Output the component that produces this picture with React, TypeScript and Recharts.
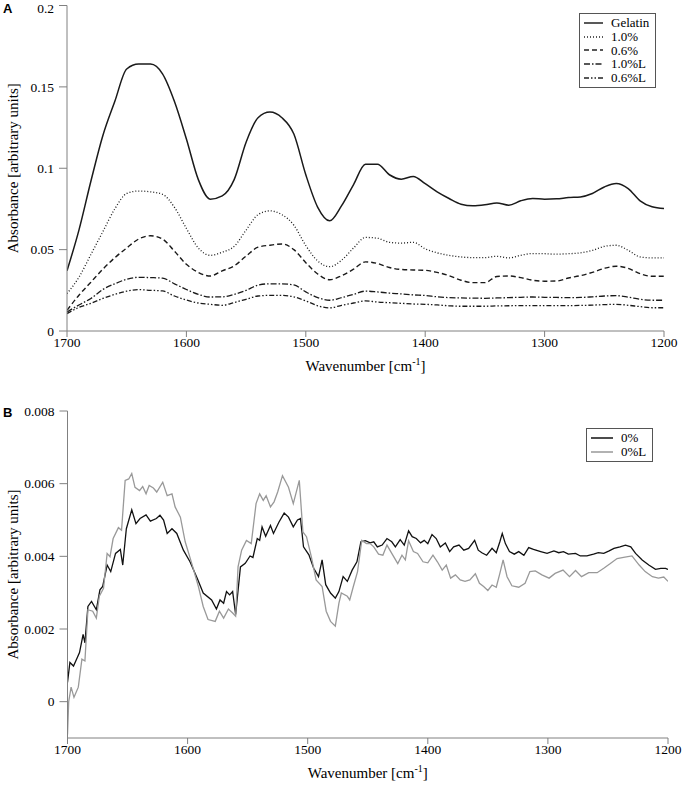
import React from 'react';
import { LineChart, Line, XAxis, YAxis } from 'recharts';

// Panel A: wavenumber grid (cm-1) and absorbance of each film
const wnA = [
  1700, 1690, 1680, 1670, 1660, 1650, 1640, 1630, 1620, 1610,
  1600, 1590, 1580, 1570, 1560, 1550, 1540, 1530, 1520, 1510,
  1500, 1490, 1480, 1470, 1460, 1450, 1440, 1430, 1420, 1410,
  1400, 1390, 1380, 1370, 1360, 1350, 1340, 1330, 1320, 1310,
  1300, 1290, 1280, 1270, 1260, 1250, 1240, 1230, 1220, 1210,
  1200,
];
const gelatin = [
  0.037, 0.062, 0.092, 0.12, 0.141, 0.161, 0.164, 0.164, 0.158, 0.141,
  0.118, 0.093, 0.081, 0.083, 0.093, 0.116, 0.131, 0.1345, 0.131, 0.121,
  0.096, 0.076, 0.0677, 0.077, 0.09, 0.1025, 0.1025, 0.096, 0.0933, 0.095,
  0.0905, 0.0855, 0.0814, 0.0779, 0.0769, 0.0775, 0.0787, 0.0773, 0.08, 0.0814,
  0.081, 0.0812, 0.082, 0.0824, 0.0845, 0.0885, 0.0906, 0.0875, 0.08, 0.0763,
  0.0752,
];
const conc10 = [
  0.023, 0.033, 0.047, 0.061, 0.075, 0.0845, 0.086, 0.0855, 0.084, 0.076,
  0.063, 0.051, 0.0465, 0.0484, 0.052, 0.062, 0.0715, 0.0738, 0.0715, 0.065,
  0.0525, 0.043, 0.0395, 0.0435, 0.051, 0.0575, 0.057, 0.0545, 0.054, 0.0545,
  0.0505, 0.048, 0.0465, 0.0455, 0.0451, 0.0451, 0.0459, 0.0449, 0.0465, 0.0476,
  0.0475, 0.0472, 0.0475, 0.048, 0.0495, 0.052, 0.0527, 0.0496, 0.0455, 0.0449,
  0.0449,
];
const conc06 = [
  0.0127, 0.022, 0.03, 0.038, 0.045, 0.051, 0.0565, 0.0585, 0.0565, 0.049,
  0.041, 0.036, 0.0338, 0.037, 0.04, 0.046, 0.0515, 0.0527, 0.0535, 0.05,
  0.042, 0.035, 0.0315, 0.034, 0.038, 0.0425, 0.0415, 0.039, 0.0378, 0.0375,
  0.0373, 0.036, 0.034, 0.0312, 0.0297, 0.0297, 0.0335, 0.0338, 0.0328, 0.0312,
  0.0306, 0.0307, 0.0326, 0.034, 0.036, 0.0385, 0.0398, 0.0385, 0.0352, 0.0336,
  0.0336,
];
const conc10L = [
  0.0117, 0.016, 0.02, 0.0255, 0.029, 0.0318, 0.033, 0.0328, 0.0325, 0.029,
  0.0255, 0.0225, 0.0209, 0.021, 0.0225, 0.025, 0.0282, 0.029, 0.029, 0.0283,
  0.024, 0.0205, 0.0189, 0.0205, 0.0225, 0.0245, 0.024, 0.0233, 0.0228, 0.0222,
  0.0218, 0.021, 0.0205, 0.0203, 0.0202, 0.0201, 0.0203, 0.0205, 0.0207, 0.0209,
  0.0207, 0.0206, 0.0205, 0.0206, 0.021, 0.0215, 0.0217, 0.0208, 0.0195, 0.0189,
  0.0189,
];
const conc06L = [
  0.0107, 0.0145, 0.017, 0.02, 0.0225, 0.0245, 0.0254, 0.025, 0.0246, 0.0215,
  0.019, 0.0172, 0.0164, 0.0158, 0.0175, 0.0195, 0.0215, 0.0219, 0.0219, 0.021,
  0.0185, 0.0155, 0.0142, 0.0158, 0.0172, 0.0185, 0.0178, 0.0174, 0.017, 0.0166,
  0.0164, 0.016, 0.0155, 0.0152, 0.0152, 0.0152, 0.0154, 0.0155, 0.0156, 0.0156,
  0.0156, 0.0156, 0.0156, 0.0157, 0.0159, 0.0162, 0.0164, 0.0158, 0.015, 0.0143,
  0.0143,
];

// Panel B: [wavenumber, absorbance]
const film0: [number, number][] = [
  [1700, 0.00053], [1698, 0.00108], [1695, 0.00098], [1692, 0.0012], [1690, 0.00135],
  [1687, 0.00185], [1685.5, 0.00162], [1683, 0.00262], [1680, 0.00276], [1676, 0.00253],
  [1673, 0.00308], [1670.7, 0.00317], [1667, 0.00376], [1664, 0.00358], [1660, 0.00408],
  [1656, 0.00419], [1654, 0.00376], [1651, 0.00476], [1646.5, 0.00528], [1643, 0.0049],
  [1639.6, 0.00504], [1634.6, 0.00514], [1631, 0.00497], [1626, 0.00504], [1623, 0.00513],
  [1620, 0.005], [1617, 0.00463], [1613, 0.00476], [1609, 0.00463], [1603.5, 0.00417],
  [1598, 0.00385], [1592, 0.0034], [1587, 0.00299], [1580, 0.0028], [1576, 0.00255],
  [1573, 0.0028], [1570, 0.00271], [1567.6, 0.00303], [1565, 0.00294], [1562.5, 0.00303],
  [1560, 0.0024], [1556, 0.00371], [1552, 0.00381], [1548, 0.00401], [1545.6, 0.00397],
  [1542, 0.00449], [1540, 0.00444], [1538, 0.00481], [1535, 0.00455], [1531, 0.00485],
  [1528.5, 0.00463], [1524, 0.00494], [1519.6, 0.00519], [1516, 0.00508], [1512, 0.00481],
  [1508.5, 0.005], [1506, 0.00504], [1503.5, 0.00426], [1499, 0.00404], [1495, 0.00367],
  [1491, 0.00344], [1488, 0.0039], [1485, 0.00322], [1481, 0.00299], [1477, 0.00285],
  [1474, 0.00303], [1470.5, 0.00344], [1467, 0.00331], [1463, 0.00362], [1459, 0.00385],
  [1455.7, 0.0044], [1452, 0.00443], [1448, 0.00437], [1445, 0.0044], [1442, 0.00426],
  [1438, 0.00431], [1434, 0.00449], [1430, 0.0044], [1427, 0.00426], [1423, 0.00446],
  [1419.6, 0.00431], [1416, 0.0047], [1413, 0.00454], [1409.6, 0.00449], [1406, 0.00437],
  [1403, 0.00444], [1400, 0.00435], [1396.5, 0.0046], [1393, 0.00449], [1389.6, 0.00426],
  [1385.4, 0.00437], [1381.8, 0.00413], [1378.5, 0.00426], [1374, 0.00431], [1370, 0.00417],
  [1366, 0.00422], [1361, 0.00444], [1358, 0.00417], [1355, 0.0041], [1351, 0.00403],
  [1346.5, 0.00422], [1343, 0.0041], [1340, 0.0044], [1338, 0.00463], [1335.4, 0.00435],
  [1332, 0.00413], [1328, 0.00406], [1324.3, 0.00413], [1320, 0.00403], [1316, 0.00424],
  [1312, 0.00419], [1306, 0.00413], [1300.7, 0.00408], [1295, 0.00415], [1291, 0.0041],
  [1287, 0.00413], [1283, 0.00406], [1277, 0.00408], [1273, 0.00401], [1267.5, 0.00401],
  [1262, 0.00406], [1258, 0.0041], [1253.5, 0.00408], [1249, 0.00415], [1245, 0.00422],
  [1240, 0.00426], [1235.4, 0.00431], [1231, 0.00426], [1227, 0.00408], [1221.5, 0.0039],
  [1216, 0.00376], [1210.4, 0.00364], [1206, 0.00367], [1202, 0.00367], [1200, 0.00364],
];
const film0L: [number, number][] = [
  [1700, -0.0009], [1699, 0.0], [1697, 0.0004], [1694.6, 0.00012], [1691, 0.0004],
  [1688, 0.00117], [1685.5, 0.00112], [1683, 0.00253], [1679, 0.00249], [1676, 0.0023],
  [1673.5, 0.0029], [1670, 0.00312], [1667, 0.00408], [1664.6, 0.00399], [1662, 0.00449],
  [1657.6, 0.00479], [1655, 0.00472], [1652, 0.00609], [1649, 0.00613], [1646.5, 0.00628],
  [1643.8, 0.0059], [1640, 0.00581], [1637.4, 0.00592], [1634.6, 0.00572], [1632, 0.00595],
  [1628.5, 0.00588], [1625.7, 0.00577], [1620.7, 0.00604], [1617, 0.00567], [1613, 0.00572],
  [1610.4, 0.00536], [1606, 0.00508], [1602, 0.0044], [1596.5, 0.0038], [1591, 0.00317],
  [1587, 0.00262], [1583, 0.00226], [1577, 0.00221], [1573.5, 0.00249], [1570, 0.0023],
  [1566, 0.00255], [1562.5, 0.00244], [1560, 0.00235], [1558, 0.00371], [1555, 0.00417],
  [1551, 0.00444], [1547, 0.00435], [1543, 0.00545], [1540, 0.00572], [1537, 0.00554],
  [1534.6, 0.00567], [1531, 0.00536], [1528, 0.0055], [1525, 0.00577], [1521, 0.00622],
  [1516, 0.0059], [1512, 0.00545], [1507, 0.00609], [1504, 0.00467], [1501, 0.00454],
  [1497, 0.00399], [1493, 0.00335], [1488, 0.00317], [1484.6, 0.00249], [1481, 0.00221],
  [1477, 0.00208], [1474, 0.00271], [1472, 0.00299], [1467, 0.0029], [1465, 0.0028],
  [1462, 0.00317], [1458.5, 0.00358], [1455, 0.00444], [1451, 0.00435], [1448, 0.00435],
  [1445, 0.00426], [1441, 0.00406], [1437.4, 0.00403], [1434, 0.00431], [1430, 0.00408],
  [1425, 0.0038], [1421.5, 0.00403], [1418.7, 0.0039], [1416, 0.00443], [1412, 0.00413],
  [1408.5, 0.00408], [1404, 0.00385], [1400, 0.00382], [1395.7, 0.00403], [1392, 0.00385],
  [1388, 0.00362], [1384.6, 0.00376], [1381, 0.0034], [1377, 0.00349], [1373, 0.00335],
  [1369, 0.00331], [1365, 0.00335], [1360.4, 0.00352], [1357, 0.00326], [1353.5, 0.00317],
  [1350, 0.00306], [1346.5, 0.00321], [1343, 0.00315], [1340, 0.00353], [1337.3, 0.0039],
  [1334, 0.00344], [1330, 0.00319], [1324.3, 0.00315], [1319, 0.00326], [1315, 0.00358],
  [1310.5, 0.0036], [1305, 0.00349], [1299, 0.0034], [1294, 0.00353], [1287.4, 0.00362],
  [1282, 0.00344], [1277, 0.00361], [1272, 0.00344], [1266, 0.00355], [1259, 0.00355],
  [1253.5, 0.00367], [1248, 0.0038], [1242.4, 0.00394], [1237, 0.00397], [1230, 0.00401],
  [1224, 0.00376], [1219, 0.00358], [1213, 0.00344], [1208, 0.0034], [1203.5, 0.00343],
  [1200, 0.00331],
];

const xTicks = [1700, 1600, 1500, 1400, 1300, 1200];
const yTicksA = [0, 0.05, 0.1, 0.15, 0.2];
const yTicksB = [0, 0.002, 0.004, 0.006, 0.008];

const seriesA = [
  { key: 'gelatin', name: 'Gelatin', dash: undefined, width: 1.5 },
  { key: 'conc10', name: '1.0%', dash: '1 2', width: 1.3 },
  { key: 'conc06', name: '0.6%', dash: '5 3', width: 1.4 },
  { key: 'conc10L', name: '1.0%L', dash: '6 2 1.5 2', width: 1.3 },
  { key: 'conc06L', name: '0.6%L', dash: '5 2 1.5 2 1.5 2', width: 1.3 },
];
const seriesB = [
  { name: '0%', color: '#111', points: film0 },
  { name: '0%L', color: '#999', points: film0L },
];

const dataA = wnA.map((wn, i) => ({
  wn,
  gelatin: gelatin[i],
  conc10: conc10[i],
  conc06: conc06[i],
  conc10L: conc10L[i],
  conc06L: conc06L[i],
}));

const SERIF = '"Liberation Serif", "Times New Roman", serif';
const FRAME = '#808080';
const tickStyle = { fill: '#000', fontSize: 13.5, fontFamily: SERIF };

const XTitle = ({ viewBox }: any) => {
  const cx = viewBox.x + viewBox.width / 2;
  return (
    <text x={cx} y={viewBox.y + 40} textAnchor="middle" fontFamily={SERIF} fontSize={15} fill="#000">
      Wavenumber [cm
      <tspan dy={-6} fontSize={10}>-1</tspan>
      <tspan dy={6}>]</tspan>
    </text>
  );
};

const YTitle = ({ viewBox }: any) => {
  const cy = viewBox.y + viewBox.height / 2;
  return (
    <text x={13} y={cy} transform={`rotate(-90 13 ${cy})`} textAnchor="middle" dominantBaseline="central"
      fontFamily={SERIF} fontSize={15} fill="#000">
      Absorbance [arbitrary units]
    </text>
  );
};

const LegendBox = ({ items, left, top, sampleW }: any) => (
  <div style={{
    position: 'absolute', left, top, border: '1px solid #555', background: '#fff',
    padding: '2px 6px 2px 4px', fontFamily: SERIF, fontSize: 13, lineHeight: '13.8px',
  }}>
    {items.map((it: any) => (
      <div key={it.name} style={{ display: 'flex', alignItems: 'center', height: 13.8 }}>
        <svg width={sampleW} height={10} style={{ marginRight: 8 }}>
          <line x1={0} y1={5} x2={sampleW} y2={5} stroke={it.color || '#222'}
            strokeWidth={it.width || 1.3} strokeDasharray={it.dash} />
        </svg>
        <span>{it.name}</span>
      </div>
    ))}
  </div>
);

const panelLetter = (t: string, top: number) => (
  <div style={{
    position: 'absolute', left: 3, top, fontFamily: '"Liberation Sans", Arial, sans-serif',
    fontWeight: 700, fontSize: 13,
  }}>{t}</div>
);

export default function App() {
  return (
    <div style={{ position: 'absolute', left: 0, top: 0, width: 685, height: 793, background: '#fff', fontFamily: SERIF }}>
      {panelLetter('A', 1)}
      <div style={{ position: 'absolute', left: 0, top: 0 }}>
        <LineChart width={685} height={400} data={dataA} style={{ fontFamily: SERIF }}
          margin={{ top: 5.5, right: 21, bottom: 29, left: 7 }}>
          <XAxis dataKey="wn" type="number" domain={[1200, 1700]} reversed ticks={xTicks} allowDataOverflow
            tick={tickStyle} tickSize={6} tickMargin={0} stroke={FRAME} height={40} label={<XTitle />} />
          <XAxis xAxisId="top" orientation="top" type="number" domain={[1200, 1700]} reversed
            tick={false} tickLine={false} height={0} stroke={FRAME} />
          <YAxis type="number" domain={[0, 0.2]} ticks={yTicksA} allowDataOverflow tick={tickStyle}
            tickSize={8} tickMargin={5} stroke={FRAME} width={60} label={<YTitle />} />
          <YAxis yAxisId="right" orientation="right" type="number" domain={[0, 0.2]}
            tick={false} tickLine={false} width={0} stroke={FRAME} />
          {seriesA.map((s) => (
            <Line key={s.key} dataKey={s.key} name={s.name} type="monotone" stroke="#1a1a1a"
              strokeWidth={s.width} strokeDasharray={s.dash} dot={false} activeDot={false}
              isAnimationActive={false} />
          ))}
        </LineChart>
      </div>
      <LegendBox left={579} top={13} sampleW={19}
        items={seriesA.map((s) => ({ name: s.name, dash: s.dash, width: s.width }))} />

      {panelLetter('B', 405)}
      <div style={{ position: 'absolute', left: 0, top: 400 }}>
        <LineChart width={685} height={393} style={{ fontFamily: SERIF }}
          margin={{ top: 11, right: 17, bottom: 15, left: 7.5 }}>
          <XAxis dataKey="wn" type="number" domain={[1200, 1700]} reversed ticks={xTicks} allowDataOverflow
            tick={tickStyle} tickSize={6} tickMargin={0} stroke={FRAME} height={40} label={<XTitle />} />
          <XAxis xAxisId="top" orientation="top" type="number" domain={[1200, 1700]} reversed
            tick={false} tickLine={false} height={0} stroke={FRAME} />
          <YAxis type="number" domain={[-0.001, 0.008]} ticks={yTicksB} allowDataOverflow tick={tickStyle}
            tickSize={8} tickMargin={5} stroke={FRAME} width={60} label={<YTitle />} />
          <YAxis yAxisId="right" orientation="right" type="number" domain={[-0.001, 0.008]}
            tick={false} tickLine={false} width={0} stroke={FRAME} />
          {seriesB.map((s) => (
            <Line key={s.name} data={s.points.map(([wn, abs]) => ({ wn, abs }))} dataKey="abs" name={s.name}
              type="linear" stroke={s.color} strokeWidth={1.3} dot={false} activeDot={false}
              isAnimationActive={false} />
          ))}
        </LineChart>
      </div>
      <LegendBox left={586} top={428} sampleW={22}
        items={seriesB.map((s) => ({ name: s.name, color: s.color, width: 1.5 }))} />
    </div>
  );
}
